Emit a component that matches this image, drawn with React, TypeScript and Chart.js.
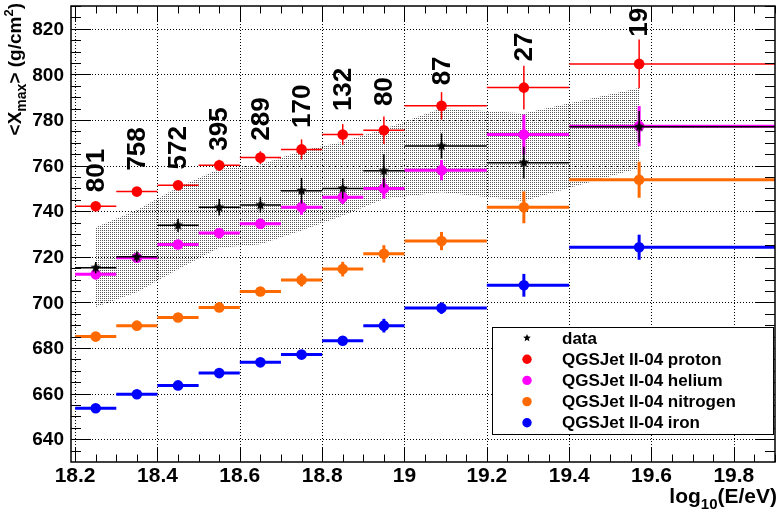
import React, { useEffect, useRef } from 'react';
import { Chart, registerables } from 'chart.js';

Chart.register(...registerables);

// log10(E/eV) bins and mean energies of the points
const binEdges = [18.2, 18.3, 18.4, 18.5, 18.6, 18.7, 18.8, 18.9, 19.0, 19.2, 19.4, 19.9];
const energies = [18.25, 18.35, 18.45, 18.55, 18.65, 18.75, 18.85, 18.95, 19.09, 19.29, 19.57];

// number of events per bin, and the <Xmax> value where each label starts
const eventCounts = ['801', '758', '572', '395', '289', '170', '132', '80', '87', '27', '19'];
const countLabelBase = [748.3, 757.8, 758.3, 766.5, 770.9, 776.5, 783.9, 786.1, 795.2, 805.7, 816.5];

// measured <Xmax> with statistical errors and the systematic band
const dataXmax = [715.2, 720, 733.8, 741.7, 742.7, 749, 750, 757.7, 768.6, 761.3, 777];
const dataErr = [2.5, 2.3, 2.9, 3.6, 3.4, 5.6, 4.5, 7.3, 5.5, 7, 7];
const sysUpper = [733, 740.5, 750.5, 758.5, 760.5, 766.5, 770.5, 776, 785.2, 783, 794];
const sysLower = [698, 704.5, 714.5, 724, 725.5, 731.5, 738, 745.3, 748.3, 744.5, 759];

// QGSJet II-04 predictions
const protonXmax = [742.2, 748.6, 751.4, 760.1, 763.5, 767.1, 773.6, 775.5, 786.2, 794.2, 804.6];
const protonErr = [1.3, 1.3, 2, 2.5, 2.8, 4.4, 4.6, 6, 6, 9.6, 10.7];
const heliumXmax = [712.3, 719.6, 725.4, 730.4, 734.5, 741.7, 746.1, 750, 758, 773.6, 777.3];
const heliumErr = [1.5, 1.5, 2, 2, 2.2, 3.3, 3, 4.4, 4.4, 8.8, 8.8];
const nitrogenXmax = [685, 689.8, 693.4, 697.8, 704.8, 709.8, 714.6, 721.3, 726.9, 741.7, 753.8];
const nitrogenErr = [1.2, 1.2, 1.2, 1.3, 1.3, 2.8, 3.2, 3.8, 4, 7, 7.9];
const ironXmax = [653.6, 659.7, 663.6, 669, 673.7, 677.1, 683.2, 689.8, 697.5, 707.5, 724.2];
const ironErr = [1, 1, 1.2, 1.2, 1.2, 1.5, 1.6, 3, 2.5, 5, 5.5];

// axes
const xTicks = [18.2, 18.4, 18.6, 18.8, 19.0, 19.2, 19.4, 19.6, 19.8];
const xTickLabels = ['18.2', '18.4', '18.6', '18.8', '19', '19.2', '19.4', '19.6', '19.8'];
const yTicks = [640, 660, 680, 700, 720, 740, 760, 780, 800, 820];
const yTickLabels = ['640', '660', '680', '700', '720', '740', '760', '780', '800', '820'];

const FONT = '"Liberation Sans", Arial, Helvetica, sans-serif';

const makeStar = (R: number) => {
  const c = document.createElement('canvas');
  const s = Math.ceil(R * 2 + 2);
  c.width = s;
  c.height = s;
  const g = c.getContext('2d')!;
  g.fillStyle = '#000';
  g.beginPath();
  for (let i = 0; i < 10; i++) {
    const r = i % 2 === 0 ? R : R * 0.45;
    const a = -Math.PI / 2 + (i * Math.PI) / 5;
    const px = s / 2 + r * Math.cos(a);
    const py = s / 2 + r * Math.sin(a);
    if (i === 0) g.moveTo(px, py);
    else g.lineTo(px, py);
  }
  g.closePath();
  g.fill();
  return c;
};

// text with sub/superscripts, returns width
const drawParts = (
  ctx: CanvasRenderingContext2D,
  parts: { t: string; size: number; dy: number }[],
  x0: number,
  y0: number,
  measureOnly = false
) => {
  let cx = x0;
  parts.forEach((p) => {
    ctx.font = `bold ${p.size}px ${FONT}`;
    if (!measureOnly) ctx.fillText(p.t, cx, y0 + p.dy);
    cx += ctx.measureText(p.t).width;
  });
  return cx - x0;
};

const line = (ctx: CanvasRenderingContext2D, x1: number, y1: number, x2: number, y2: number) => {
  ctx.beginPath();
  ctx.moveTo(x1, y1);
  ctx.lineTo(x2, y2);
  ctx.stroke();
};

const rootPlugin = {
  id: 'rootStyle',
  beforeDatasetsDraw(chart: any) {
    const { ctx, chartArea, scales } = chart;
    const { left, right, top, bottom } = chartArea;
    ctx.save();
    ctx.strokeStyle = '#000';
    ctx.lineWidth = 1;
    ctx.setLineDash([1, 2]);
    xTicks.forEach((v) => {
      const px = Math.round(scales.x.getPixelForValue(v)) + 0.5;
      line(ctx, px, top, px, bottom);
    });
    yTicks.forEach((v) => {
      const py = Math.round(scales.y.getPixelForValue(v)) + 0.5;
      line(ctx, left, py, right, py);
    });
    ctx.restore();
  },
  beforeDatasetDraw(chart: any, args: any) {
    const ds = chart.data.datasets[args.index];
    if (!ds.errY) return;
    const { ctx, scales } = chart;
    ctx.save();
    ctx.strokeStyle = ds.errColor;
    ctx.lineWidth = ds.errWidth;
    ds.data.forEach((p: { x: number; y: number }, i: number) => {
      const px = scales.x.getPixelForValue(p.x);
      const py = scales.y.getPixelForValue(p.y);
      line(ctx, scales.x.getPixelForValue(binEdges[i]), py, scales.x.getPixelForValue(binEdges[i + 1]), py);
      line(ctx, px, scales.y.getPixelForValue(p.y - ds.errY[i]), px, scales.y.getPixelForValue(p.y + ds.errY[i]));
    });
    ctx.restore();
  },
  afterDraw(chart: any) {
    const { ctx, chartArea, scales } = chart;
    const { left, right, top, bottom } = chartArea;
    ctx.save();
    ctx.strokeStyle = '#000';
    ctx.fillStyle = '#000';
    ctx.lineWidth = 1;

    // ticks on all four sides
    for (let k = 0; k <= 34; k++) {
      const v = 18.2 + k * 0.05;
      const px = Math.round(scales.x.getPixelForValue(v)) + 0.5;
      const len = k % 4 === 0 ? 15 : 7.5;
      line(ctx, px, bottom, px, bottom - len);
      line(ctx, px, top, px, top + len);
    }
    for (let k = 1; k <= 40; k++) {
      const v = 630 + k * 5;
      const py = Math.round(scales.y.getPixelForValue(v)) + 0.5;
      const len = v % 20 === 0 ? 20 : 10;
      line(ctx, left, py, left + len, py);
      line(ctx, right, py, right - len, py);
    }
    ctx.lineWidth = 1.5;
    ctx.strokeRect(left, top, right - left, bottom - top);

    // tick labels
    ctx.font = `bold 21px ${FONT}`;
    ctx.textAlign = 'center';
    ctx.textBaseline = 'middle';
    xTicks.forEach((v, i) => ctx.fillText(xTickLabels[i], scales.x.getPixelForValue(v), 476));
    ctx.font = `bold 19px ${FONT}`;
    ctx.textAlign = 'right';
    yTicks.forEach((v, i) => ctx.fillText(yTickLabels[i], 64, scales.y.getPixelForValue(v) + 1));

    // axis titles
    ctx.textAlign = 'left';
    ctx.textBaseline = 'alphabetic';
    const xTitle = [
      { t: 'log', size: 21, dy: 0 },
      { t: '10', size: 15, dy: 6 },
      { t: '(E/eV)', size: 21, dy: 0 },
    ];
    const xw = drawParts(ctx, xTitle, 0, 0, true);
    drawParts(ctx, xTitle, 777 - xw, 503);

    const yTitle = [
      { t: '<X', size: 19, dy: 0 },
      { t: 'max', size: 14, dy: 5 },
      { t: '> (g/cm', size: 19, dy: 0 },
      { t: '2', size: 13, dy: -8 },
      { t: ')', size: 19, dy: 0 },
    ];
    const yw = drawParts(ctx, yTitle, 0, 0, true);
    ctx.save();
    ctx.translate(21, 3 + yw);
    ctx.rotate(-Math.PI / 2);
    drawParts(ctx, yTitle, 0, 0);
    ctx.restore();

    // event counts
    ctx.font = `bold 26px ${FONT}`;
    ctx.textBaseline = 'middle';
    ctx.textAlign = 'left';
    eventCounts.forEach((label, i) => {
      ctx.save();
      ctx.translate(scales.x.getPixelForValue(energies[i]), scales.y.getPixelForValue(countLabelBase[i]));
      ctx.rotate(-Math.PI / 2);
      ctx.fillText(label, 0, 1);
      ctx.restore();
    });

    // legend
    const lx = 492;
    const ly = 327;
    ctx.fillStyle = '#fff';
    ctx.fillRect(lx, ly, 281, 107);
    ctx.lineWidth = 1;
    ctx.strokeStyle = '#000';
    ctx.strokeRect(lx + 0.5, ly + 0.5, 281, 107);
    const entries = [
      { text: 'data', color: '#000', star: true },
      { text: 'QGSJet II-04 proton', color: '#ff0000', star: false },
      { text: 'QGSJet II-04 helium', color: '#ff00ff', star: false },
      { text: 'QGSJet II-04 nitrogen', color: '#ff6a00', star: false },
      { text: 'QGSJet II-04 iron', color: '#0000ff', star: false },
    ];
    ctx.font = `bold 17px ${FONT}`;
    entries.forEach((e, i) => {
      const yy = 338 + i * 21.2;
      ctx.fillStyle = e.color;
      if (e.star) {
        ctx.drawImage(legendStar, 527 - legendStar.width / 2, yy - legendStar.height / 2);
      } else {
        ctx.beginPath();
        ctx.arc(527, yy, 4.7, 0, Math.PI * 2);
        ctx.fill();
      }
      ctx.fillStyle = '#000';
      ctx.fillText(e.text, 562, yy + 1);
    });
    ctx.restore();
  },
};

const legendStar = makeStar(4);

const App: React.FC = () => {
  const chartRef = useRef<HTMLCanvasElement>(null);
  const chartInstance = useRef<Chart | null>(null);

  useEffect(() => {
    if (!chartRef.current) return;
    if (chartInstance.current) chartInstance.current.destroy();
    const ctx = chartRef.current.getContext('2d');
    if (!ctx) return;

    // fine dotted fill for the systematic band
    const pc = document.createElement('canvas');
    pc.width = 2;
    pc.height = 2;
    const pg = pc.getContext('2d')!;
    pg.fillStyle = 'rgba(70,70,70,0.9)';
    pg.fillRect(0, 0, 1, 1);
    const bandPattern = ctx.createPattern(pc, 'repeat');

    const star = makeStar(5.5);
    const pts = (ys: number[]) => energies.map((x, i) => ({ x, y: ys[i] }));
    const model = (label: string, ys: number[], errs: number[], color: string, width: number, order: number) => ({
      label,
      data: pts(ys),
      backgroundColor: color,
      borderColor: color,
      pointRadius: 5.3,
      pointBorderWidth: 0,
      showLine: false,
      errY: errs,
      errColor: color,
      errWidth: width,
      order,
    });

    chartInstance.current = new Chart(ctx, {
      type: 'scatter',
      data: {
        datasets: [
          {
            label: 'data',
            data: pts(dataXmax),
            pointStyle: star,
            pointRadius: 5,
            showLine: false,
            errY: dataErr,
            errColor: '#000',
            errWidth: 1.5,
            order: 0,
          },
          model('proton', protonXmax, protonErr, '#ff0000', 1.5, 1),
          model('helium', heliumXmax, heliumErr, '#ff00ff', 3, 2),
          model('nitrogen', nitrogenXmax, nitrogenErr, '#ff6a00', 3, 3),
          model('iron', ironXmax, ironErr, '#0000ff', 3, 4),
          {
            label: 'sysUpper',
            data: pts(sysUpper),
            showLine: true,
            borderWidth: 0,
            borderColor: 'rgba(0,0,0,0)',
            pointRadius: 0,
            tension: 0,
            fill: '+1',
            backgroundColor: bandPattern,
            order: 10,
          },
          {
            label: 'sysLower',
            data: pts(sysLower),
            showLine: true,
            borderWidth: 0,
            borderColor: 'rgba(0,0,0,0)',
            pointRadius: 0,
            tension: 0,
            fill: false,
            order: 11,
          },
        ] as any,
      },
      options: {
        responsive: true,
        maintainAspectRatio: false,
        animation: false,
        layout: { padding: { left: 71, right: 5, top: 2, bottom: 52 } },
        plugins: {
          legend: { display: false },
          tooltip: { enabled: false },
        },
        scales: {
          x: { type: 'linear', min: 18.19, max: 19.9, display: false },
          y: { type: 'linear', min: 630, max: 830, display: false },
        },
      },
      plugins: [rootPlugin],
    });

    return () => {
      if (chartInstance.current) {
        chartInstance.current.destroy();
        chartInstance.current = null;
      }
    };
  }, []);

  return (
    <div style={{ position: 'absolute', left: 0, top: 0, width: '781px', height: '514px', background: '#fff' }}>
      <canvas ref={chartRef} />
    </div>
  );
};

export default App;
